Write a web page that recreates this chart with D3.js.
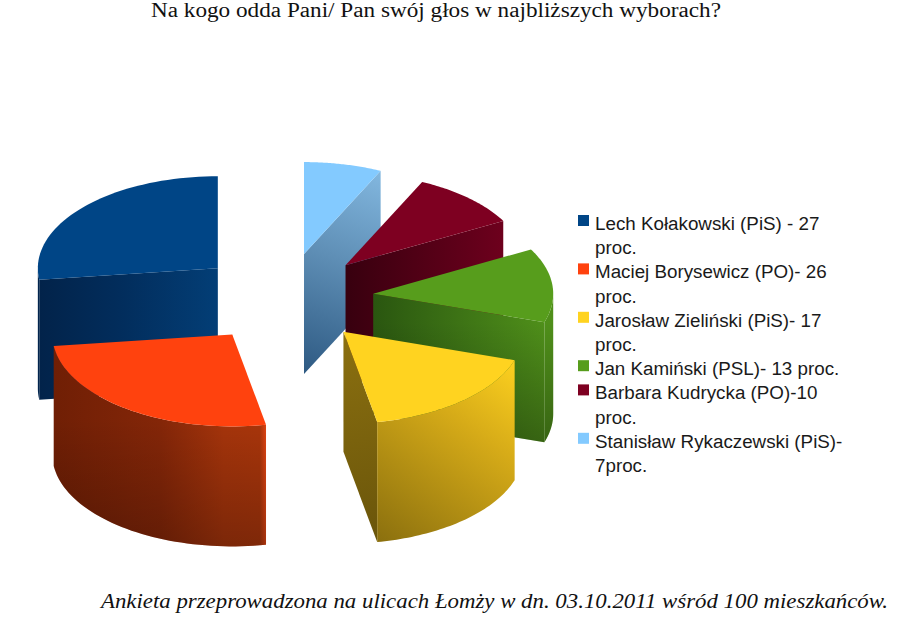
<!DOCTYPE html>
<html lang="pl">
<head>
<meta charset="utf-8">
<style>
html,body{margin:0;padding:0;background:#fff}
svg{display:block}
</style>
<script src="https://cdn.jsdelivr.net/npm/d3@7/dist/d3.min.js"></script>
</head>
<body>
<div id="chart"></div>
<script>
// ---- data ----
const candidates = ["Lech Kołakowski", "Maciej Borysewicz", "Jarosław Zieliński", "Jan Kamiński", "Barbara Kudrycka", "Stanisław Rykaczewski"];
const values = [27, 26, 17, 13, 10, 7];
const colours = ["#004586", "#ff420e", "#ffd320", "#579d1c", "#7e0021", "#83caff"];
const legendLines = [
  ["Lech Kołakowski (PiS) - 27", "proc."],
  ["Maciej Borysewicz (PO)- 26", "proc."],
  ["Jarosław Zieliński (PiS)- 17", "proc."],
  ["Jan Kamiński (PSL)- 13 proc."],
  ["Barbara Kudrycka (PO)-10", "proc."],
  ["Stanisław Rykaczewski (PiS)-", "7proc."]
];
const titleText = "Na kogo odda Pani/ Pan swój głos w najbliższych wyborach?";
const footerText = "Ankieta przeprowadzona na ulicach Łomży w dn. 03.10.2011 wśród 100 mieszkańców.";

// ---- layout ----
const W = 900, H = 617;
const cx = 284.6, cy = 298, rx = 180, ry = 92, depth = 120, explode = 89;
const legendX = 578, legendTextX = 595, legendTop = 230, legendStep = 24.2;

const svg = d3.select("#chart").append("svg").attr("width", W).attr("height", H).attr("viewBox", [0, 0, W, H]);
const defs = svg.append("defs");

function gradient(id, x1, y1, x2, y2, stops) {
  const g = defs.append("linearGradient").attr("id", id).attr("gradientUnits", "userSpaceOnUse")
    .attr("x1", x1).attr("y1", y1).attr("x2", x2).attr("y2", y2);
  stops.forEach(([o, c, a]) => {
    const s = g.append("stop").attr("offset", o).attr("stop-color", c);
    if (a !== undefined) s.attr("stop-opacity", a);
  });
  return `url(#${id})`;
}

// pie runs counter-clockwise from twelve o'clock
const arcs = d3.pie().sort(null).startAngle(0).endAngle(-2 * Math.PI).value(d => d)(values)
  .map((a, i) => {
    const ccwStart = -a.startAngle, ccwEnd = -a.endAngle, mid = (ccwStart + ccwEnd) / 2;
    return {
      i, ccwStart, ccwEnd,
      tx: cx - Math.sin(mid) * explode,
      ty: cy - Math.cos(mid) * explode * 91 / rx
    };
  });

const pt = (s, a) => [s.tx - Math.sin(a) * rx, s.ty - Math.cos(a) * ry];
const line = d3.line();
const sample = (from, to) => d3.range(0, 49).map(k => from + (to - from) * k / 48);

// wall paints, one per slice
const wallFill = [
  gradient("w0", 40, 0, 218, 0, [[0, "#02234a"], [0.45, "#022d5c"], [1, "#033e76"]]),
  null,
  gradient("w2", 344, 340, 377, 540, [[0, "#8a6f10"], [1, "#6a550a"]]),
  gradient("w3", 373, 0, 544, 0, [[0, "#2a5610"], [1, "#4f8f1a"]]),
  gradient("w4", 347, 0, 505, 0, [[0, "#38000f"], [1, "#6e001d"]]),
  gradient("w5", 381, 170, 304, 372, [[0, "#83b8e0"], [0.45, "#5f8fb6"], [1, "#2e5a83"]])
];
const rimFill = [
  "#02254e",
  gradient("r1", 55, 0, 266, 0, [[0, "#701f05"], [0.5, "#842608"], [0.8, "#a5340b"], [0.97, "#a8350b"], [1, "#e04412"]]),
  gradient("r2", 513, 361, 377, 543, [[0, "#fcd01f"], [0.35, "#d6ab18"], [1, "#8a6f0e"]]),
  "#4f8f1a",
  null,
  null
];
// vertical darkening laid over the lower part of some walls
const shadeFill = [
  null,
  gradient("s1", 0, 420, 0, 546, [[0, "#000", 0], [1, "#000", 0.25]]),
  null,
  gradient("s3", 0, 322, 0, 442, [[0, "#000", 0], [1, "#000", 0.3]]),
  null,
  null
];

const order = arcs.slice().sort((a, b) => a.ty - b.ty);
const groups = svg.append("g").selectAll("g").data(order).join("g");

groups.each(function (s) {
  const g = d3.select(this);
  const tip = [s.tx, s.ty];
  const paint = (d, fill) => {
    g.append("path").attr("d", d).attr("fill", fill);
    if (shadeFill[s.i]) g.append("path").attr("d", d).attr("fill", shadeFill[s.i]);
  };
  const wall = a => {
    const p = pt(s, a);
    return line([tip, p, [p[0], p[1] + depth], [tip[0], tip[1] + depth]]) + "Z";
  };
  // radial walls that face the viewer
  if (Math.sin(s.ccwStart) < -1e-6) paint(wall(s.ccwStart), wallFill[s.i]);
  if (Math.sin(s.ccwEnd) > 1e-6) paint(wall(s.ccwEnd), wallFill[s.i]);
  // outer rim: only the front half of the ellipse shows
  const from = Math.max(s.ccwStart, Math.PI / 2), to = Math.min(s.ccwEnd, 3 * Math.PI / 2);
  if (to > from) {
    const upper = sample(from, to).map(a => pt(s, a));
    const lower = upper.slice().reverse().map(p => [p[0], p[1] + depth]);
    paint(line(upper.concat(lower)) + "Z", rimFill[s.i]);
  }
  // top face
  g.append("path")
    .attr("d", line([tip].concat(sample(s.ccwStart, s.ccwEnd).map(a => pt(s, a)))) + "Z")
    .attr("fill", colours[s.i]);
});

// title and footer
svg.append("text").attr("x", 151).attr("y", 17)
  .attr("font-family", "'Liberation Serif', serif").attr("font-size", 20)
  .attr("textLength", 570).attr("lengthAdjust", "spacingAndGlyphs")
  .attr("fill", "#111").text(titleText);
svg.append("text").attr("x", 101).attr("y", 608)
  .attr("font-family", "'Liberation Serif', serif").attr("font-style", "italic").attr("font-size", 20.5)
  .attr("textLength", 787).attr("lengthAdjust", "spacingAndGlyphs")
  .attr("fill", "#111").text(footerText);

// legend
const legend = svg.append("g").attr("font-family", "'Liberation Sans', Arial, sans-serif").attr("font-size", 18.8).attr("fill", "#1a1a1a");
let row = 0;
legendLines.forEach((lines, i) => {
  legend.append("rect").attr("x", legendX).attr("y", legendTop + row * legendStep - 15)
    .attr("width", 11).attr("height", 11).attr("fill", colours[i]);
  lines.forEach(t => {
    legend.append("text").attr("x", legendTextX).attr("y", legendTop + row * legendStep).text(t);
    row += 1;
  });
});
</script>
</body>
</html>
